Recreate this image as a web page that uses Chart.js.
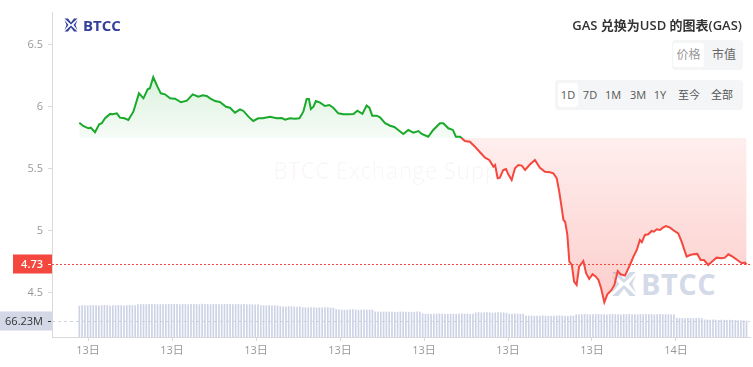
<!DOCTYPE html>
<html>
<head>
<meta charset="utf-8">
<script src="https://cdn.jsdelivr.net/npm/chart.js@4.4.0/dist/chart.umd.min.js"></script>
<style>
  body { margin: 0; background: #fff; font-family: "Open Sans", "Noto Sans CJK SC", sans-serif; }
  #wrap { position: relative; width: 753px; height: 367px; overflow: hidden; background: #fff; }
  #c { position: absolute; left: 0; top: 0; z-index: 2; }
  .wm-text { position: absolute; left: 273px; top: 154px; font-size: 23px; color: rgba(0,0,0,0.035); white-space: nowrap; z-index: 1; }
  .wm-logo { position: absolute; left: 611px; top: 264px; z-index: 1; display: flex; align-items: center; color: #d5dae9; font-weight: 700; font-size: 29px; letter-spacing: 0.5px; }
  .wm-logo svg { margin-right: 4px; }
  .logo { position: absolute; left: 64px; top: 15px; z-index: 3; display: flex; align-items: center; color: #34409a; font-weight: 700; font-size: 15px; }
  .logo svg { margin-right: 5px; }
  .title { position: absolute; right: 11px; top: 15px; z-index: 3; font-size: 13px; font-weight: 600; color: #333; }
  .seg { position: absolute; z-index: 3; background: #f4f5f7; border-radius: 4px; height: 30px; }
  .seg span { position: absolute; top: 3px; height: 24px; line-height: 24px; text-align: center; color: #555; font-size: 11px; }
  .seg span.on { background: #fff; border-radius: 3px; }
</style>
</head>
<body>
<div id="wrap">
  <div class="wm-text">BTCC Exchange Supp</div>
  <div class="wm-logo">
    <svg width="26" height="26" viewBox="0 0 14 14"><g fill="#d5dae9">
      <polygon points="0.5,0.5 4,0.5 7,4.5 10,0.5 13.5,0.5 7,6.5"/>
      <polygon points="0.5,13.5 4,13.5 7,9.5 10,13.5 13.5,13.5 7,7.5"/>
      <polygon points="0.5,2 4.5,7 0.5,12 2.5,7"/>
      <polygon points="13.5,2 9.5,7 13.5,12 11.5,7"/></g></svg>
    BTCC
  </div>
  <canvas id="c" width="753" height="367"></canvas>
  <div class="logo">
    <svg width="14" height="14" viewBox="0 0 14 14"><g fill="#34409a">
      <polygon points="0.5,0.5 4,0.5 7,4.5 10,0.5 13.5,0.5 7,6.5"/>
      <polygon points="0.5,13.5 4,13.5 7,9.5 10,13.5 13.5,13.5 7,7.5"/>
      <polygon points="0.5,2 4.5,7 0.5,12 2.5,7"/>
      <polygon points="13.5,2 9.5,7 13.5,12 11.5,7"/></g></svg>
    BTCC
  </div>
  <div class="title">GAS 兑换为USD 的图表(GAS)</div>
  <div class="seg" style="left:672px;top:40px;width:71px;">
    <span class="on" style="left:1px;width:31px;font-size:12px;color:#999;">价格</span>
    <span style="left:38px;width:28px;font-size:12px;color:#666;">市值</span>
  </div>
  <div class="seg" style="left:555px;top:80px;width:188px;">
    <span class="on" style="left:3px;width:20px;">1D</span>
    <span style="left:25px;width:20px;">7D</span>
    <span style="left:47px;width:22px;">1M</span>
    <span style="left:72px;width:22px;">3M</span>
    <span style="left:96px;width:18px;">1Y</span>
    <span style="left:120px;width:28px;">至今</span>
    <span style="left:153px;width:28px;">全部</span>
  </div>
</div>
<script>
// price line: hour of the day (13日 = 0..24) and price
const priceHours = [
  2.69, 2.83, 3.01, 3.10, 3.25, 3.40, 3.49, 3.61, 3.79, 3.88,
  4.03, 4.14, 4.30, 4.44, 4.62, 4.82, 4.98, 5.13, 5.21, 5.33,
  5.48, 5.60, 5.75, 5.93, 6.11, 6.32, 6.53, 6.74, 6.94, 7.10,
  7.24, 7.36, 7.54, 7.71, 7.93, 8.07, 8.25, 8.43, 8.55, 8.73,
  8.90, 9.08, 9.24, 9.50, 9.74, 9.92, 10.04, 10.21, 10.39, 10.55,
  10.69, 10.81, 10.89, 10.96, 11.05, 11.14, 11.29, 11.46, 11.62, 11.76,
  11.94, 12.12, 12.30, 12.48, 12.62, 12.80, 12.95, 13.05, 13.15, 13.31,
  13.43, 13.61, 13.79, 13.94, 14.08, 14.26, 14.44, 14.62, 14.80, 14.92,
  15.15, 15.33, 15.57, 15.69, 15.87, 16.03, 16.14, 16.29, 16.46, 16.64,
  16.82, 17.00, 17.18, 17.33, 17.48, 17.54, 17.63, 17.71, 17.83, 17.93,
  18.01, 18.13, 18.25, 18.37, 18.49, 18.61, 18.79, 18.96, 19.14, 19.32,
  19.50, 19.62, 19.74, 19.83, 19.92, 19.98, 20.04, 20.12, 20.19, 20.28,
  20.36, 20.45, 20.54, 20.63, 20.69, 20.79, 20.90, 21.02, 21.14, 21.23,
  21.32, 21.44, 21.55, 21.70, 21.80, 21.92, 22.02, 22.18, 22.27, 22.38,
  22.48, 22.60, 22.71, 22.78, 22.89, 23.01, 23.13, 23.21, 23.31, 23.43,
  23.53, 23.64, 23.79, 23.94, 24.08, 24.20, 24.38, 24.50, 24.62, 24.76,
  24.88, 25.00, 25.15, 25.31, 25.45, 25.63, 25.75, 25.87, 26.02, 26.19,
  26.35, 26.46, 26.52
];
const prices = [
  5.873, 5.847, 5.828, 5.833, 5.796, 5.860, 5.869, 5.909, 5.944, 5.941,
  5.949, 5.914, 5.909, 5.895, 5.962, 6.110, 6.070, 6.143, 6.151, 6.240,
  6.164, 6.110, 6.102, 6.070, 6.067, 6.038, 6.051, 6.102, 6.083, 6.094,
  6.089, 6.070, 6.048, 6.040, 6.002, 5.994, 5.954, 5.981, 5.968, 5.922,
  5.887, 5.909, 5.909, 5.922, 5.909, 5.911, 5.898, 5.909, 5.906, 5.909,
  5.962, 6.065, 6.065, 5.984, 6.002, 6.048, 6.035, 6.008, 6.016, 5.994,
  5.949, 5.941, 5.941, 5.944, 5.970, 5.944, 6.011, 5.994, 5.930, 5.930,
  5.917, 5.869, 5.849, 5.839, 5.815, 5.782, 5.815, 5.793, 5.806, 5.782,
  5.760, 5.815, 5.869, 5.869, 5.828, 5.815, 5.760, 5.760, 5.726, 5.720,
  5.680, 5.635, 5.591, 5.573, 5.519, 5.532, 5.425, 5.430, 5.492, 5.500,
  5.457, 5.411, 5.506, 5.532, 5.527, 5.492, 5.538, 5.573, 5.510, 5.478,
  5.473, 5.465, 5.425, 5.317, 5.183, 5.089, 5.075, 4.968, 4.752, 4.726,
  4.591, 4.565, 4.712, 4.740, 4.758, 4.659, 4.613, 4.651, 4.631, 4.605,
  4.543, 4.425, 4.490, 4.524, 4.565, 4.677, 4.651, 4.640, 4.685, 4.740,
  4.793, 4.847, 4.927, 4.909, 4.968, 4.973, 5.000, 4.994, 5.014, 5.008,
  5.027, 5.040, 5.027, 5.000, 4.981, 4.914, 4.793, 4.806, 4.812, 4.815,
  4.766, 4.766, 4.726, 4.758, 4.785, 4.780, 4.785, 4.812, 4.793, 4.766,
  4.740, 4.745, 4.73
];
// volume in millions, one bar every ~6 minutes
const volumes = [
  128, 130, 130, 129, 131, 130, 130, 129, 130, 131, 130, 129, 130, 130, 131, 130, 129, 130, 131, 130, 130,
  134, 135, 135, 134, 135, 136, 135, 134, 135, 135, 134, 135, 135, 136, 135, 134, 135, 135, 134, 135,
  135, 135, 134, 136, 135, 135, 134, 135, 135, 134, 135, 135, 136, 135, 134, 135, 135, 134, 135, 134,
  134, 134, 133, 134, 130, 130, 129, 130, 129, 130, 129,
  126, 125, 125, 126, 125, 125, 124, 125,
  122, 121, 121, 122, 121, 120, 121, 121, 122, 121, 120, 120,
  113, 112, 112, 111, 112, 112, 113, 112, 111, 112, 112, 111, 112, 112,
  104, 104, 103, 103, 104, 103, 103, 102, 103, 104, 103, 103, 102, 103, 103, 104, 103,
  96, 95, 95, 94, 95, 95, 96, 95, 94, 95, 95, 95, 94, 95, 96, 95, 95, 94, 95,
  100, 101, 100, 100, 101, 100, 99, 100, 101, 100, 100, 99,
  95, 95, 96, 95, 94, 95,
  88, 87, 87, 86, 87, 87, 88, 87, 86, 87, 87, 87, 88, 87, 87, 86, 87, 87,
  92, 93, 93, 94, 93, 92, 93, 93, 94, 93, 93, 92, 93, 94, 93, 93, 92, 93,
  93, 94, 93, 93, 92, 93, 93, 94, 93, 93, 92, 93, 94, 93, 93, 93, 92, 93,
  78, 77, 77, 76, 77, 77, 76, 77, 77, 76,
  71, 70, 70, 71, 70, 69, 70, 70, 69, 70, 69, 69, 68, 68, 67, 66.23
];
const volStartHour = 2.69;
const volStepHour = 0.0997;

const tickHours = [3, 6, 9, 12, 15, 18, 21, 24];
const tickLabels = ['13日', '13日', '13日', '13日', '13日', '13日', '13日', '14日'];
const priceTicks = [4.5, 5, 5.5, 6, 6.5];
const baseline = 5.75;

const upColor = '#19a92b';
const downColor = '#f4473e';
const fontFamily = '"Open Sans", "Noto Sans CJK SC", sans-serif';

// one vertical gradient, split at the baseline price
function splitGradient(chart, stops) {
    const area = chart.chartArea;
    if (!area) return null;
    const yb = chart.scales.y.getPixelForValue(baseline);
    const t = Math.min(1, Math.max(0, (yb - area.top) / (area.bottom - area.top)));
    const g = chart.ctx.createLinearGradient(0, area.top, 0, area.bottom);
    stops(g, t);
    return g;
}

const lastPricePlugin = {
    id: 'lastPrice',
    beforeDatasetsDraw(chart) {
        const { ctx, chartArea: a, scales } = chart;
        const yv = Math.round(scales.yv.getPixelForValue(volumes[volumes.length - 1])) + 0.5;
        ctx.save();
        ctx.strokeStyle = '#cfd3dc';
        ctx.lineWidth = 1;
        ctx.setLineDash([3, 3]);
        ctx.beginPath();
        ctx.moveTo(a.left, yv);
        ctx.lineTo(a.right, yv);
        ctx.stroke();
        ctx.restore();
    },
    afterDatasetsDraw(chart) {
        const { ctx, chartArea: a, scales } = chart;
        const last = prices[prices.length - 1];
        const lastVol = volumes[volumes.length - 1];
        const yp = Math.round(scales.y.getPixelForValue(last)) + 0.5;
        const yv = Math.round(scales.yv.getPixelForValue(lastVol)) + 0.5;
        ctx.save();
        ctx.strokeStyle = downColor;
        ctx.lineWidth = 1;
        ctx.setLineDash([2, 2]);
        ctx.beginPath();
        ctx.moveTo(a.left, yp);
        ctx.lineTo(a.right, yp);
        ctx.stroke();
        ctx.setLineDash([]);

        // price tag
        ctx.fillStyle = downColor;
        ctx.fillRect(13, yp - 10, a.left - 13, 19);
        ctx.fillStyle = '#fff';
        ctx.fillRect(a.left - 4, yp - 0.5, 3, 1);
        ctx.font = '600 11px ' + fontFamily;
        ctx.textAlign = 'right';
        ctx.textBaseline = 'middle';
        ctx.fillText(last.toFixed(2), a.left - 9, yp);

        // volume tag
        ctx.fillStyle = '#d3d8e6';
        ctx.fillRect(0, yv - 10, a.left, 19);
        ctx.fillStyle = '#333';
        ctx.fillRect(a.left - 4, yv - 0.5, 3, 1);
        ctx.font = '11px ' + fontFamily;
        ctx.fillText(lastVol.toFixed(2) + 'M', a.left - 9, yv);
        ctx.restore();
    }
};

const ctx = document.getElementById('c').getContext('2d');
new Chart(ctx, {
    data: {
        datasets: [{
            type: 'line',
            label: 'GAS',
            data: priceHours.map((h, i) => ({ x: h, y: prices[i] })),
            yAxisID: 'y',
            order: 0,
            borderWidth: 2,
            pointRadius: 0,
            tension: 0,
            fill: { value: baseline },
            borderColor: c => splitGradient(c.chart, (g, t) => {
                g.addColorStop(0, upColor);
                g.addColorStop(t, upColor);
                g.addColorStop(t, downColor);
                g.addColorStop(1, downColor);
            }),
            backgroundColor: c => splitGradient(c.chart, (g, t) => {
                g.addColorStop(0, 'rgba(25,169,43,0.20)');
                g.addColorStop(t * 0.5, 'rgba(25,169,43,0.16)');
                g.addColorStop(t, 'rgba(25,169,43,0.04)');
                g.addColorStop(t, 'rgba(244,71,62,0.09)');
                g.addColorStop(1, 'rgba(244,71,62,0.30)');
            })
        }, {
            type: 'bar',
            label: 'Volume',
            data: volumes.map((v, i) => ({ x: volStartHour + i * volStepHour, y: v })),
            yAxisID: 'yv',
            order: 1,
            backgroundColor: '#cdd3e6',
            barThickness: 1
        }]
    },
    options: {
        responsive: false,
        animation: false,
        layout: { padding: { top: 12, right: 3, left: 0, bottom: 0 } },
        plugins: {
            legend: { display: false },
            tooltip: { enabled: false }
        },
        scales: {
            x: {
                type: 'linear',
                offset: false,
                min: 1.714,
                max: 26.643,
                afterBuildTicks: scale => { scale.ticks = tickHours.map(v => ({ value: v })); },
                afterFit: scale => { scale.height = 30; },
                ticks: {
                    autoSkip: false,
                    maxRotation: 0,
                    padding: 3,
                    color: '#999',
                    font: { size: 11, family: fontFamily },
                    callback: v => tickLabels[tickHours.indexOf(v)]
                },
                grid: { offset: false, drawOnChartArea: false, tickLength: 4, color: '#d9d9d9' },
                border: { color: '#d9d9d9' }
            },
            y: {
                type: 'linear',
                position: 'left',
                min: 4.145,
                max: 6.766,
                afterBuildTicks: scale => { scale.ticks = priceTicks.map(v => ({ value: v })); },
                afterFit: scale => { scale.width = 52; },
                ticks: {
                    padding: 5,
                    color: '#999',
                    font: { size: 11, family: fontFamily },
                    callback: v => String(v)
                },
                grid: { drawOnChartArea: false, tickLength: 4, color: '#d9d9d9' },
                border: { color: '#d9d9d9' }
            },
            yv: {
                type: 'linear',
                display: false,
                min: 0,
                max: 1345
            }
        }
    },
    plugins: [lastPricePlugin]
});
</script>
</body>
</html>
